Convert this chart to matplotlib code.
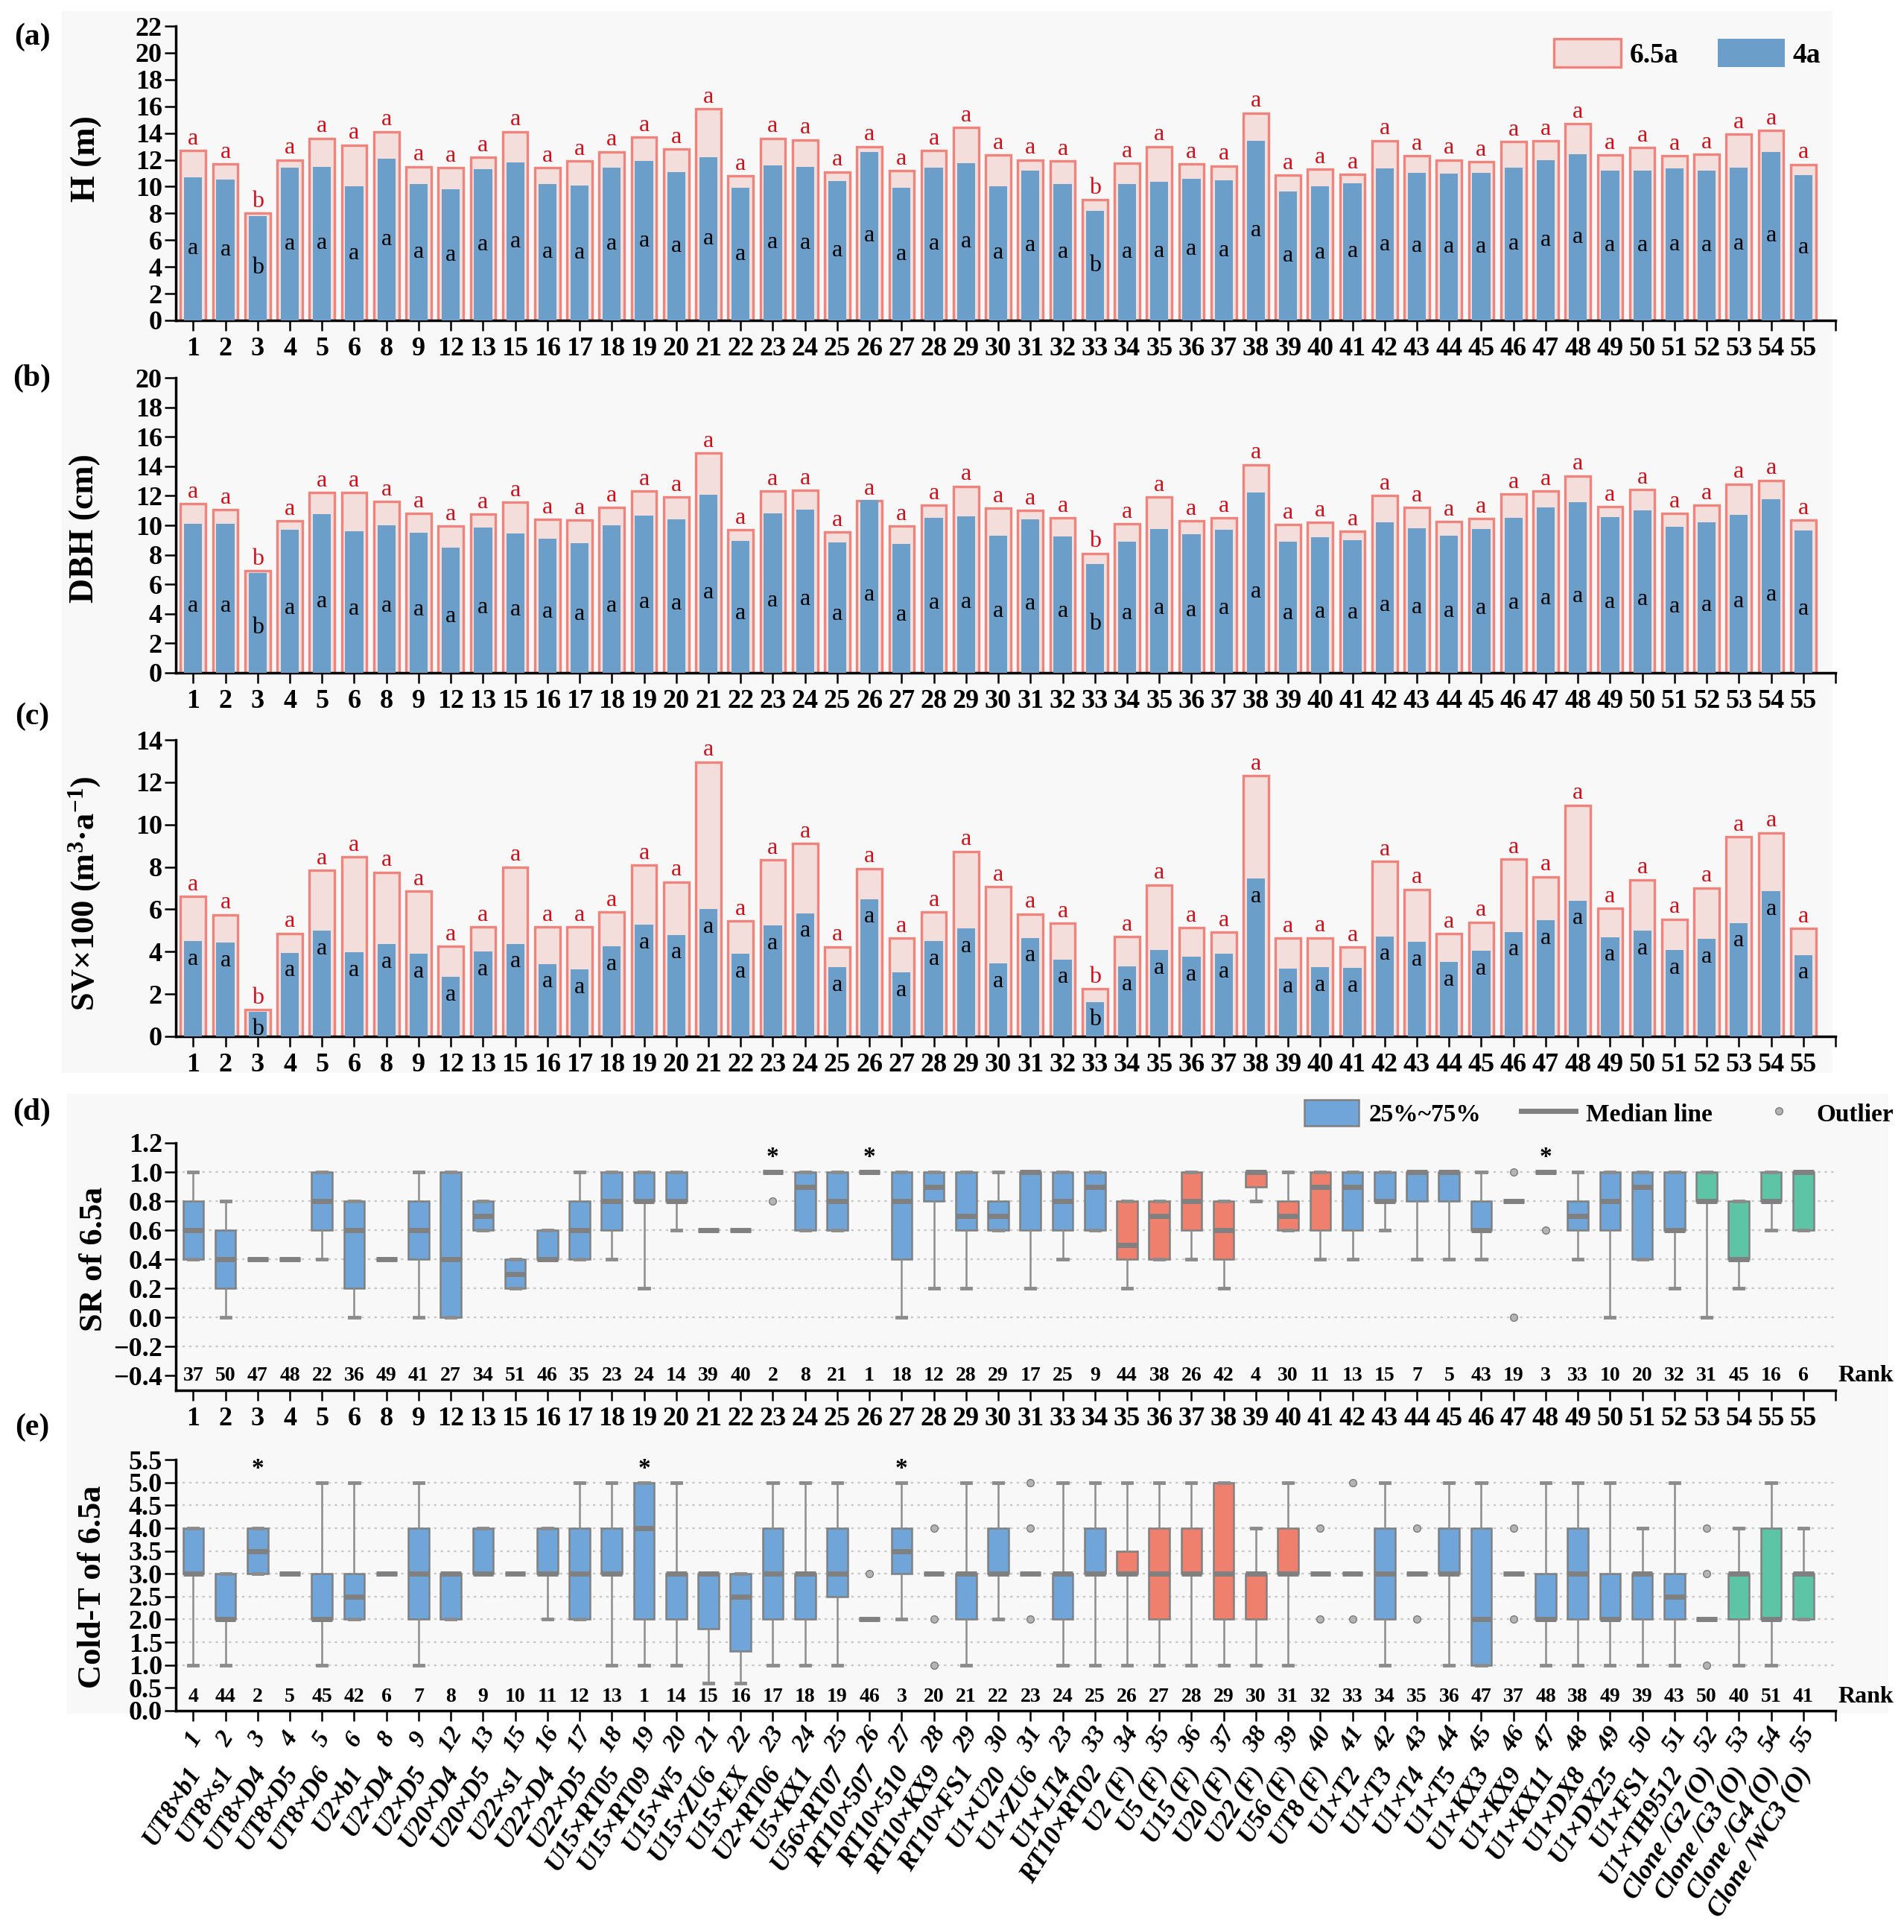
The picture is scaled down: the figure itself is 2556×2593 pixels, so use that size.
import numpy as np
import matplotlib
matplotlib.use("Agg")
import matplotlib.pyplot as plt
from matplotlib.patches import Patch, Rectangle
from matplotlib.lines import Line2D
from matplotlib import transforms

# ---------------- data ----------------
abc_ticks = [1, 2, 3, 4, 5, 6, 8, 9, 12, 13, 15, 16, 17, 18, 19, 20, 21, 22, 23, 24,
             25, 26, 27, 28, 29, 30, 31, 32, 33, 34, 35, 36, 37, 38, 39, 40, 41, 42, 43, 44,
             45, 46, 47, 48, 49, 50, 51, 52, 53, 54, 55]
d_ticks = [1, 2, 3, 4, 5, 6, 8, 9, 12, 13, 15, 16, 17, 18, 19, 20, 21, 22, 23, 24,
           25, 26, 27, 28, 29, 30, 31, 33, 34, 35, 36, 37, 38, 39, 40, 41, 42, 43, 44, 45,
           46, 47, 48, 49, 50, 51, 52, 53, 54, 55, 55]
e_nums = [1, 2, 3, 4, 5, 6, 8, 9, 12, 13, 15, 16, 17, 18, 19, 20, 21, 22, 23, 24,
          25, 26, 27, 28, 29, 30, 31, 23, 33, 34, 35, 36, 37, 38, 39, 40, 41, 42, 43, 44,
          45, 46, 47, 48, 49, 50, 51, 52, 53, 54, 55]
e_names = ["UT8×b1", "UT8×s1", "UT8×D4", "UT8×D5", "UT8×D6", "U2×b1", "U2×D4", "U2×D5",
           "U20×D4", "U20×D5", "U22×s1", "U22×D4", "U22×D5", "U15×RT05", "U15×RT09",
           "U15×W5", "U15×ZU6", "U15×EX", "U2×RT06", "U5×KX1", "U56×RT07", "RT10×507",
           "RT10×510", "RT10×KX9", "RT10×FS1", "U1×U20", "U1×ZU6", "U1×LT4", "RT10×RT02",
           "U2 (F)", "U5 (F)", "U15 (F)", "U20 (F)", "U22 (F)", "U56 (F)", "UT8 (F)",
           "U1×T2", "U1×T3", "U1×T4", "U1×T5", "U1×KX3", "U1×KX9", "U1×KX11", "U1×DX8",
           "U1×DX25", "U1×FS1", "U1×TH9512", "Clone /G2 (O)", "Clone /G3 (O)",
           "Clone /G4 (O)", "Clone /WC3 (O)"]

H_65 = [12.7, 11.7, 8.0, 12.0, 13.6, 13.1, 14.1, 11.5, 11.4, 12.2,
        14.1, 11.4, 11.9, 12.6, 13.7, 12.8, 15.8, 10.8, 13.6, 13.5,
        11.1, 13.0, 11.2, 12.7, 14.4, 12.35, 12.0, 11.9, 9.0, 11.75,
        13.0, 11.7, 11.55, 15.5, 10.85, 11.3, 10.9, 13.45, 12.3, 12.0,
        11.85, 13.35, 13.4, 14.7, 12.35, 12.9, 12.3, 12.4, 13.9, 14.2, 11.65]
H_4 = [10.7, 10.5, 7.8, 11.4, 11.5, 10.0, 12.1, 10.2, 9.8, 11.3,
       11.8, 10.2, 10.1, 11.4, 11.9, 11.1, 12.2, 9.9, 11.6, 11.5,
       10.4, 12.6, 9.9, 11.4, 11.75, 10.05, 11.2, 10.2, 8.2, 10.2,
       10.35, 10.6, 10.45, 13.4, 9.65, 10.05, 10.25, 11.35, 11.05, 10.95,
       11.0, 11.4, 12.0, 12.4, 11.2, 11.2, 11.35, 11.2, 11.4, 12.6, 10.85]
DBH_65 = [11.45, 11.05, 6.9, 10.3, 12.2, 12.2, 11.6, 10.8, 9.95, 10.75,
          11.55, 10.4, 10.35, 11.2, 12.3, 11.9, 14.9, 9.7, 12.3, 12.35,
          9.55, 11.65, 9.95, 11.35, 12.65, 11.15, 11.0, 10.5, 8.1, 10.1,
          11.9, 10.3, 10.5, 14.1, 10.05, 10.2, 9.6, 12.0, 11.2, 10.25,
          10.45, 12.1, 12.3, 13.35, 11.25, 12.4, 10.8, 11.35, 12.8, 13.05, 10.35]
DBH_4 = [10.1, 10.1, 6.75, 9.7, 10.75, 9.6, 10.0, 9.5, 8.5, 9.85,
         9.45, 9.1, 8.8, 10.0, 10.65, 10.4, 12.05, 8.95, 10.8, 11.05,
         8.85, 11.7, 8.75, 10.5, 10.6, 9.3, 10.4, 9.25, 7.35, 8.9,
         9.75, 9.4, 9.7, 12.2, 8.9, 9.2, 9.0, 10.2, 9.8, 9.3,
         9.75, 10.5, 11.2, 11.55, 10.55, 11.0, 9.9, 10.2, 10.7, 11.75, 9.65]
SV_65 = [6.6, 5.75, 1.27, 4.86, 7.83, 8.46, 7.75, 6.86, 4.25, 5.16,
         7.99, 5.17, 5.17, 5.87, 8.08, 7.29, 12.95, 5.45, 8.33, 9.1,
         4.23, 7.92, 4.63, 5.87, 8.73, 7.07, 5.78, 5.33, 2.24, 4.7,
         7.15, 5.12, 4.92, 12.3, 4.64, 4.66, 4.22, 8.26, 6.94, 4.84,
         5.39, 8.36, 7.54, 10.92, 6.04, 7.4, 5.54, 7.01, 9.42, 9.62, 5.1]
SV_4 = [4.49, 4.43, 1.17, 3.95, 4.98, 3.98, 4.36, 3.89, 2.8, 4.0,
        4.37, 3.42, 3.15, 4.25, 5.26, 4.79, 6.01, 3.91, 5.23, 5.81,
        3.27, 6.48, 3.02, 4.49, 5.1, 3.45, 4.66, 3.64, 1.63, 3.3,
        4.08, 3.75, 3.89, 7.45, 3.19, 3.27, 3.23, 4.72, 4.45, 3.51,
        4.04, 4.94, 5.49, 6.41, 4.69, 4.99, 4.08, 4.6, 5.36, 6.86, 3.85]
letters_65 = list("aab" + "aaaaaaaaaaaaaaaaaaaaaaaaa" + "b" + "aaaaaaaaaaaaaaaaaaaaaa")
letters_4 = list("aab" + "aaaaaaaaaaaaaaaaaaaaaaaaa" + "b" + "aaaaaaaaaaaaaaaaaaaaaa")

groups = (["H"] * 29) + (["F"] * 7) + (["H"] * 11) + (["C"] * 4)

# SR of 6.5a box statistics
sr_q1 = [0.4, 0.2, 0.4, 0.4, 0.6, 0.2, 0.4, 0.4, 0.0, 0.6,
         0.2, 0.4, 0.4, 0.6, 0.8, 0.8, 0.6, 0.6, 1.0, 0.6,
         0.6, 1.0, 0.4, 0.8, 0.6, 0.6, 0.6, 0.6, 0.6, 0.4,
         0.4, 0.6, 0.4, 0.9, 0.6, 0.6, 0.6, 0.8, 0.8, 0.8,
         0.6, 0.8, 1.0, 0.6, 0.6, 0.4, 0.6, 0.8, 0.4, 0.8, 0.6]
sr_med = [0.6, 0.4, 0.4, 0.4, 0.8, 0.6, 0.4, 0.6, 0.4, 0.7,
          0.3, 0.4, 0.6, 0.8, 0.8, 0.8, 0.6, 0.6, 1.0, 0.9,
          0.8, 1.0, 0.8, 0.9, 0.7, 0.7, 1.0, 0.8, 0.9, 0.5,
          0.7, 0.8, 0.6, 1.0, 0.7, 0.9, 0.9, 0.8, 1.0, 1.0,
          0.6, 0.8, 1.0, 0.7, 0.8, 0.9, 0.6, 0.8, 0.4, 0.8, 1.0]
sr_q3 = [0.8, 0.6, 0.4, 0.4, 1.0, 0.8, 0.4, 0.8, 1.0, 0.8,
         0.4, 0.6, 0.8, 1.0, 1.0, 1.0, 0.6, 0.6, 1.0, 1.0,
         1.0, 1.0, 1.0, 1.0, 1.0, 0.8, 1.0, 1.0, 1.0, 0.8,
         0.8, 1.0, 0.8, 1.0, 0.8, 1.0, 1.0, 1.0, 1.0, 1.0,
         0.8, 0.8, 1.0, 0.8, 1.0, 1.0, 1.0, 1.0, 0.8, 1.0, 1.0]
sr_lo = [0.4, 0.0, 0.4, 0.4, 0.4, 0.0, 0.4, 0.0, 0.0, 0.6,
         0.2, 0.4, 0.4, 0.4, 0.2, 0.6, 0.6, 0.6, 1.0, 0.6,
         0.6, 1.0, 0.0, 0.2, 0.2, 0.6, 0.2, 0.4, 0.6, 0.2,
         0.4, 0.4, 0.2, 0.8, 0.6, 0.4, 0.4, 0.6, 0.4, 0.4,
         0.4, 0.8, 1.0, 0.4, 0.0, 0.4, 0.2, 0.0, 0.2, 0.6, 0.6]
sr_hi = [1.0, 0.8, 0.4, 0.4, 1.0, 0.8, 0.4, 1.0, 1.0, 0.8,
         0.4, 0.6, 1.0, 1.0, 1.0, 1.0, 0.6, 0.6, 1.0, 1.0,
         1.0, 1.0, 1.0, 1.0, 1.0, 1.0, 1.0, 1.0, 1.0, 0.8,
         0.8, 1.0, 0.8, 1.0, 1.0, 1.0, 1.0, 1.0, 1.0, 1.0,
         1.0, 0.8, 1.0, 1.0, 1.0, 1.0, 1.0, 1.0, 0.8, 1.0, 1.0]
sr_flier_pos = [18, 41, 41, 42]
sr_flier_val = [0.8, 1.0, 0.0, 0.6]
sr_star_pos = [18, 21, 42]
sr_rank = [37, 50, 47, 48, 22, 36, 49, 41, 27, 34, 51, 46, 35, 23, 24, 14, 39, 40, 2, 8,
           21, 1, 18, 12, 28, 29, 17, 25, 9, 44, 38, 26, 42, 4, 30, 11, 13, 15, 7, 5,
           43, 19, 3, 33, 10, 20, 32, 31, 45, 16, 6]

# Cold-T of 6.5a box statistics
ct_q1 = [3, 2, 3, 3, 2, 2, 3, 2, 2, 3,
         3, 3, 2, 3, 2, 2, 1.8, 1.3, 2, 2,
         2.5, 2, 3, 3, 2, 3, 3, 2, 3, 3,
         2, 3, 2, 2, 3, 3, 3, 2, 3, 3,
         1, 3, 2, 2, 2, 2, 2, 2, 2, 2, 2]
ct_med = [3, 2, 3.5, 3, 2, 2.5, 3, 3, 3, 3,
          3, 3, 3, 3, 4, 3, 3, 2.5, 3, 3,
          3, 2, 3.5, 3, 3, 3, 3, 3, 3, 3,
          3, 3, 3, 3, 3, 3, 3, 3, 3, 3,
          2, 3, 2, 3, 2, 3, 2.5, 2, 3, 2, 3]
ct_q3 = [4, 3, 4, 3, 3, 3, 3, 4, 3, 4,
         3, 4, 4, 4, 5, 3, 3, 3, 4, 3,
         4, 2, 4, 3, 3, 4, 3, 3, 4, 3.5,
         4, 4, 5, 3, 4, 3, 3, 4, 3, 4,
         4, 3, 3, 4, 3, 3, 3, 2, 3, 4, 3]
ct_lo = [1, 1, 3, 3, 1, 2, 3, 1, 2, 3,
         3, 2, 2, 1, 1, 1, 0.6, 0.6, 1, 1,
         1, 2, 2, 3, 1, 2, 3, 1, 1, 1,
         1, 1, 1, 1, 1, 3, 3, 1, 3, 1,
         1, 3, 1, 1, 1, 1, 1, 2, 1, 1, 2]
ct_hi = [4, 3, 4, 3, 5, 5, 3, 5, 3, 4,
         3, 4, 5, 5, 5, 5, 3, 3, 5, 5,
         5, 2, 5, 3, 5, 5, 3, 5, 5, 5,
         5, 5, 5, 4, 5, 3, 3, 5, 3, 5,
         5, 3, 5, 5, 5, 4, 5, 2, 4, 5, 4]
ct_flier_pos = [21, 23, 23, 23, 26, 26, 26, 35, 35, 36, 36, 38, 38, 41, 41, 47, 47, 47]
ct_flier_val = [3, 4, 2, 1, 5, 4, 2, 4, 2, 5, 2, 4, 2, 4, 2, 4, 3, 1]
ct_star_pos = [2, 14, 22]
ct_rank = [4, 44, 2, 5, 45, 42, 6, 7, 8, 9, 10, 11, 12, 13, 1, 14, 15, 16, 17, 18,
           19, 46, 3, 20, 21, 22, 23, 24, 25, 26, 27, 28, 29, 30, 31, 32, 33, 34, 35, 36,
           47, 37, 48, 38, 49, 39, 43, 50, 40, 51, 41]

# ---------------- style ----------------
plt.rcParams.update({
    "font.family": ["Liberation Serif", "DejaVu Serif"],
    "font.weight": "bold",
    "axes.labelweight": "bold",
    "mathtext.fontset": "custom",
    "mathtext.rm": "Liberation Serif:bold",
    "mathtext.it": "Liberation Serif:italic:bold",
    "mathtext.bf": "Liberation Serif:bold",
    "axes.unicode_minus": True,
})

PINK = "#f3dedc"
PINK_EDGE = "#f0837b"
BLUE_BAR = "#6b9ec8"
RED_TXT = "#d0111b"
BOX_COL = {"H": "#6fa5d8", "F": "#f0806e", "C": "#5ec4a6"}
GRAY = "#808080"

W, H = 2556, 2593
fig = plt.figure(figsize=(W / 100, H / 100), dpi=100)
fig.patch.set_facecolor("white")
fig.patches.append(Rectangle((83 / W, 1 - 1440 / H), (2460 - 83) / W, (1440 - 15) / H,
                             transform=fig.transFigure, facecolor="#f8f8f8",
                             edgecolor="none", zorder=-10))
fig.patches.append(Rectangle((90 / W, 1 - 2300 / H), (2535 - 90) / W, (2300 - 1468) / H,
                             transform=fig.transFigure, facecolor="#f8f8f8",
                             edgecolor="none", zorder=-10))

L, R = 236, 2464
XLIM = (-0.54, 51.0)
n = len(abc_ticks)
x = np.arange(n)


def add_ax(top, bottom):
    ax = fig.add_axes([L / W, 1 - bottom / H, (R - L) / W, (bottom - top) / H])
    ax.set_facecolor("none")
    for s in ["top", "right"]:
        ax.spines[s].set_visible(False)
    ax.spines["left"].set_linewidth(2.5)
    ax.spines["bottom"].set_linewidth(2.5)
    ax.tick_params(axis="both", which="both", direction="out", width=1.8, labelsize=26)
    ax.tick_params(axis="x", which="both", length=10, pad=6)
    ax.tick_params(axis="y", length=11, pad=2)
    ax.set_xlim(*XLIM)
    ax.set_xticks([XLIM[1]], minor=True)
    return ax


def bar_panel(ax, v65, v4, ymax, inner):
    ax.bar(x, v65, 0.78, color=PINK, edgecolor=PINK_EDGE, linewidth=2.4, zorder=2)
    ax.bar(x, v4, 0.56, color=BLUE_BAR, edgecolor="none", zorder=3)
    for xi, v, s in zip(x, v65, letters_65):
        ax.annotate(s, (xi, v), xytext=(0, 1), textcoords="offset points", ha="center",
                    va="bottom", color=RED_TXT, fontsize=23, fontweight="normal", zorder=4)
    for xi, v, s in zip(x, v4, letters_4):
        ax.text(xi, inner(v), s, ha="center", va="center", fontsize=23,
                fontweight="normal", color="black", zorder=4)
    ax.set_ylim(0, ymax)
    ax.set_yticks(list(range(0, ymax + 1, 2)))
    ax.set_xticks(x)
    ax.set_xticklabels([str(t) for t in abc_ticks])


def box_panel(ax, q1, med, q3, lo, hi, fpos, fval):
    stats = []
    for i in range(n):
        fl = [v for p, v in zip(fpos, fval) if p == i]
        stats.append(dict(q1=q1[i], med=med[i], q3=q3[i], whislo=lo[i], whishi=hi[i],
                          fliers=fl))
    bp = ax.bxp(stats, positions=x, widths=0.64, capwidths=0.28, patch_artist=True,
                showfliers=True, manage_ticks=False,
                boxprops=dict(edgecolor=GRAY, linewidth=1.8),
                medianprops=dict(color=GRAY, linewidth=5, solid_capstyle="butt"),
                whiskerprops=dict(color="#8c8c8c", linewidth=1.8),
                capprops=dict(color="#8c8c8c", linewidth=3.5),
                flierprops=dict(marker="o", markerfacecolor="#b4b4b4",
                                markeredgecolor="#7a7a7a", markersize=7))
    for patch, g in zip(bp["boxes"], groups):
        patch.set_facecolor(BOX_COL[g])
    for key in bp:
        for art in bp[key]:
            art.set_zorder(3)
    return bp


# ---------------- (a) ----------------
ax_a = add_ax(35, 430)
bar_panel(ax_a, H_65, H_4, 22, lambda v: 0.5 * v)
ax_a.legend(handles=[Patch(facecolor=PINK, edgecolor=PINK_EDGE, linewidth=2.4, label="6.5a"),
                     Patch(facecolor=BLUE_BAR, edgecolor="none", label="4a")],
            loc="upper right", bbox_to_anchor=(2478 / W, 1 - 18 / H),
            bbox_transform=fig.transFigure, ncol=2, frameon=False,
            prop={"size": 27, "weight": "bold"}, handlelength=2.4, handleheight=1.2,
            handletextpad=0.3, columnspacing=1.4)

# ---------------- (b) ----------------
ax_b = add_ax(507, 903)
bar_panel(ax_b, DBH_65, DBH_4, 20, lambda v: 0.45 * v)

# ---------------- (c) ----------------
ax_c = add_ax(993, 1391)
bar_panel(ax_c, SV_65, SV_4, 14, lambda v: v - 0.85)

# ---------------- (d) ----------------
ax_d = add_ax(1534, 1866)
ax_d.set_ylim(-0.5, 1.2)
d_yt = [-0.4, -0.2, 0.0, 0.2, 0.4, 0.6, 0.8, 1.0, 1.2]
ax_d.set_yticks(d_yt)
ax_d.set_yticklabels(["\u22120.4", "\u22120.2", "0.0", "0.2", "0.4", "0.6", "0.8", "1.0", "1.2"])
for yv in [-0.2, 0.0, 0.2, 0.4, 0.6, 0.8, 1.0]:
    ax_d.axhline(yv, color="#c8c8c8", linestyle=(0, (1.5, 2.5)), linewidth=1.6, zorder=0)
box_panel(ax_d, sr_q1, sr_med, sr_q3, sr_lo, sr_hi, sr_flier_pos, sr_flier_val)
ax_d.set_xticks(x)
ax_d.set_xticklabels([str(t) for t in d_ticks])
for xi, r in zip(x, sr_rank):
    ax_d.text(xi, -0.4, str(r), ha="center", va="center", fontsize=20, fontweight="bold")
ax_d.text(51.95, -0.4, "Rank", ha="center", va="center", fontsize=23, fontweight="bold",
          clip_on=False)
for p in sr_star_pos:
    ax_d.text(p, 1.10, "*", ha="center", va="center", fontsize=24, fontweight="bold")
fig.legend(handles=[Patch(facecolor=BOX_COL["H"], edgecolor=GRAY, linewidth=1.8),
                    Line2D([], [], color=GRAY, linewidth=5),
                    Line2D([], [], marker="o", linestyle="none", markerfacecolor="#b4b4b4",
                           markeredgecolor="#7a7a7a", markersize=7)],
           labels=["25%~75%", "Median line", "Outlier"],
           loc="center right", bbox_to_anchor=(2572 / W, 1 - 1494 / H), ncol=3,
           frameon=False, prop={"size": 24, "weight": "bold"}, handlelength=2.2,
           handleheight=1.2, handletextpad=0.4, columnspacing=1.6)

# ---------------- (e) ----------------
ax_e = add_ax(1959, 2296)
ax_e.set_ylim(0, 5.5)
ax_e.set_yticks([0.0, 0.5, 1.0, 1.5, 2.0, 2.5, 3.0, 3.5, 4.0, 4.5, 5.0, 5.5])
ax_e.set_yticklabels(["0.0", "0.5", "1.0", "1.5", "2.0", "2.5", "3.0", "3.5", "4.0",
                      "4.5", "5.0", "5.5"])
for yv in [1.0, 1.5, 2.0, 2.5, 3.0, 3.5, 4.0, 4.5, 5.0]:
    ax_e.axhline(yv, color="#c8c8c8", linestyle=(0, (1.5, 2.5)), linewidth=1.6, zorder=0)
box_panel(ax_e, ct_q1, ct_med, ct_q3, ct_lo, ct_hi, ct_flier_pos, ct_flier_val)
ax_e.set_xticks(x)
ax_e.set_xticklabels([])
for xi, r in zip(x, ct_rank):
    ax_e.text(xi, 0.30, str(r), ha="center", va="center", fontsize=20, fontweight="bold")
ax_e.text(51.95, 0.30, "Rank", ha="center", va="center", fontsize=23, fontweight="bold",
          clip_on=False)
for p in ct_star_pos:
    ax_e.text(p, 5.30, "*", ha="center", va="center", fontsize=24, fontweight="bold",
              clip_on=False)

tr = transforms.blended_transform_factory(ax_e.transData, fig.transFigure)
for xi, num, name in zip(x, e_nums, e_names):
    ax_e.text(xi, 1 - 2334 / H, str(num), transform=tr, rotation=58, ha="center",
              va="center", fontsize=24, fontweight="bold", fontstyle="italic",
              clip_on=False)
    ax_e.text(xi + 0.08, 1 - 2374 / H, name, transform=tr, rotation=58,
              rotation_mode="anchor", ha="right", va="center", fontsize=25,
              fontweight="bold", fontstyle="italic", clip_on=False)

# ---------------- labels ----------------
for lab, yc in [("(a)", 50), ("(b)", 508), ("(c)", 962), ("(d)", 1493), ("(e)", 1916)]:
    fig.text(43 / W, 1 - yc / H, lab, ha="center", va="center", fontsize=30,
             fontweight="bold")

ylabels = [("H (m)", 116, 213, 33),
           ("DBH (cm)", 114, 709, 33),
           ("SV×100 (m$^{3}$·a$^{-1}$)", 114, 1199, 32),
           ("SR of 6.5a", 126, 1690, 32),
           ("Cold-T of 6.5a", 124, 2130, 32)]
for txt, xc, yc, fs in ylabels:
    fig.text(xc / W, 1 - yc / H, txt, rotation=90, ha="center", va="center",
             fontsize=fs, fontweight="bold")

fig.savefig("out.png", dpi=100)
